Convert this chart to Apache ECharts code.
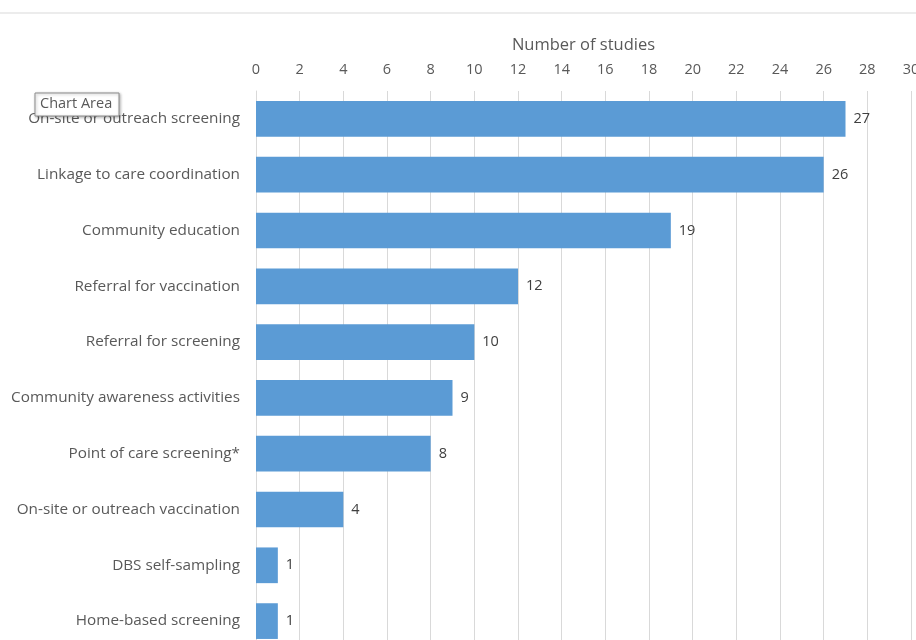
<!DOCTYPE html>
<html><head><meta charset="utf-8">
<script src="https://cdn.jsdelivr.net/npm/echarts@6/dist/echarts.min.js"></script>
<style>html,body{margin:0;padding:0;background:#fff;}#c{width:916px;height:640px;}</style>
</head><body><div id="c"></div>
<script>
const categories = ["On-site or outreach screening","Linkage to care coordination","Community education","Referral for vaccination","Referral for screening","Community awareness activities","Point of care screening*","On-site or outreach vaccination","DBS self-sampling","Home-based screening"];
const values = [27,26,19,12,10,9,8,4,1,1];
const axisTitle = "Number of studies";
const FONT = "Open Sans";
const chart = echarts.init(document.getElementById('c'));
chart.setOption({
  animation:false,
  textStyle:{fontFamily:FONT},
  grid:{left:256,right:5,top:91,height:558,containLabel:false,outerBoundsMode:'none'},
  xAxis:{type:'value',position:'top',min:0,max:30,interval:2,
    name:axisTitle,nameLocation:'middle',nameGap:37,
    nameTextStyle:{color:'#595959',fontSize:16.5,fontFamily:FONT},
    axisLine:{show:false},axisTick:{show:false},
    axisLabel:{color:'#595959',fontSize:14.5,margin:14,fontFamily:FONT},
    splitLine:{lineStyle:{color:'#d9d9d9',width:1}}},
  yAxis:{type:'category',inverse:true,data:categories,
    axisLine:{show:true,lineStyle:{color:'#d9d9d9'}},axisTick:{show:false},
    axisLabel:{color:'#595959',fontSize:15.3,margin:16,fontFamily:FONT}},
  series:[{type:'bar',data:values,barCategoryGap:'36%',
    itemStyle:{color:'#5B9BD5'},
    label:{show:true,position:'right',distance:8,color:'#404040',fontSize:14.5,fontFamily:FONT}}],
  graphic:[
    {type:'line',shape:{x1:0,y1:13,x2:916,y2:13},style:{stroke:'#d9d9d9',lineWidth:1}},
    {type:'rect',shape:{x:35,y:93,width:84,height:23},style:{fill:'#fff',stroke:'#8c8c8c',lineWidth:1,shadowBlur:3,shadowColor:'rgba(0,0,0,0.3)',shadowOffsetX:1,shadowOffsetY:1},z:100},
    {type:'text',x:40,y:96,style:{text:'Chart Area',fill:'#595959',fontSize:14.5,fontFamily:FONT},z:101}
  ]
});
</script></body></html>
